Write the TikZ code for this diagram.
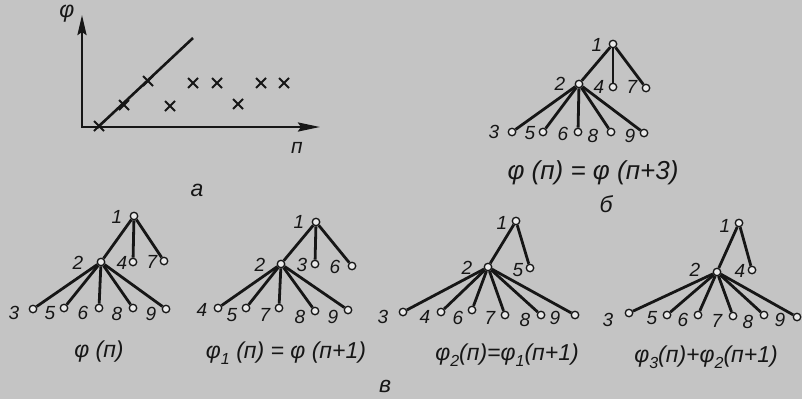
\documentclass[tikz,border=0pt]{standalone}
\usepackage{fontspec}
\setmainfont{Liberation Sans}
\usetikzlibrary{arrows.meta}
\definecolor{scangray}{HTML}{C4C4C4}
\definecolor{inkblack}{HTML}{161616}
\tikzset{
  vtx/.style={circle, draw=inkblack, fill=scangray!35!white, line width=1.3pt, inner sep=0pt, minimum size=7.5pt},
  edg/.style={line width=2.8pt, draw=inkblack},
  lbl/.style={font=\fontsize{19}{19}\selectfont\itshape, text=inkblack, inner sep=0pt},
  frm/.style={font=\fontsize{23}{23}\selectfont\itshape, text=inkblack, inner sep=0pt},
  crs/.style={line width=2pt, draw=inkblack},
  axis/.style={line width=2.6pt, draw=inkblack, {Stealth[length=20pt,width=9pt,inset=3pt]}-{Stealth[length=22pt,width=9pt,inset=3pt]}},
}
\newcommand{\lowidx}[1]{\raisebox{-0.5ex}{\fontsize{16}{16}\selectfont #1}}

\begin{document}
\begin{tikzpicture}[x=1pt, y=-1pt]
  % фон
  \fill[scangray] (0,0) rectangle (802,399);
  \useasboundingbox (0,0) rectangle (802,399);

  % --- а: график ---
  \coordinate (ytop) at (82,15);
  \coordinate (orig) at (82,127);
  \coordinate (xend) at (320,127);
  \draw[axis] (ytop) -- (orig) -- (xend);
  \coordinate (lin0) at (97,128);
  \coordinate (lin1) at (193,38);
  \draw[line width=2.6pt, inkblack] (lin0) -- (lin1);
  \foreach \x/\y in {99/126, 124/105, 148/81, 170/106, 193/83, 217/83, 238/104, 261/83, 284/83}
    \draw[crs] ({\x-5},{\y-5}) -- ({\x+5},{\y+5}) ({\x-5},{\y+5}) -- ({\x+5},{\y-5});
  \node[frm] (phiax) at (67,14) {φ};
  \node[lbl, font=\fontsize{21}{21}\selectfont\itshape] (nax) at (297,148) {п};
  \node[frm] (capa) at (197,190) {а};

  % --- б: дерево ---
  \node[vtx] (b1) at (613,44) {};
  \node[vtx] (b2) at (579,84) {};
  \node[vtx] (b4) at (613,87) {};
  \node[vtx] (b7) at (646,88) {};
  \foreach \k/\x/\y in {3/512/132, 5/543/132, 6/578/132, 8/611/132, 9/644/133}
    \node[vtx] (b\k) at (\x,\y) {};
  \foreach \k in {2,4,7} \draw[edg] (b1) -- (b\k);
  \foreach \k in {3,5,6,8,9} \draw[edg] (b2) -- (b\k);
  \foreach \k/\x/\y in {1/597/45, 2/560/84, 4/599/87, 7/632/87, 3/494/132, 5/530/133, 6/563/134, 8/593/136, 9/630/136}
    \node[lbl] (b\k t) at (\x,\y) {\k};
  \node[frm, font=\fontsize{26}{26}\selectfont\itshape] (fb) at (593,173) {φ (п) = φ (п+3)};
  \node[frm] (capb) at (606,204) {б};

  % --- в: дерево φ(n) ---
  \node[vtx] (p1) at (134,216) {};
  \node[vtx] (p2) at (101,262) {};
  \node[vtx] (p4) at (133,262) {};
  \node[vtx] (p7) at (164,261) {};
  \foreach \k/\x/\y in {3/33/309, 5/64/308, 6/99/308, 8/133/308, 9/166/309}
    \node[vtx] (p\k) at (\x,\y) {};
  \foreach \k in {2,4,7} \draw[edg] (p1) -- (p\k);
  \foreach \k in {3,5,6,8,9} \draw[edg] (p2) -- (p\k);
  \foreach \k/\x/\y in {1/117/217, 2/78/263, 4/122/263, 7/152/262, 3/14/313, 5/50/313, 6/83/313, 8/117/314, 9/151/314}
    \node[lbl] (p\k t) at (\x,\y) {\k};
  \node[frm] (fp) at (99,352) {φ (п)};

  % --- в: дерево φ1 ---
  \node[vtx] (q1) at (316,222) {};
  \node[vtx] (q2) at (281,264) {};
  \node[vtx] (q3) at (315,264) {};
  \node[vtx] (q6) at (352,266) {};
  \foreach \k/\x/\y in {4/218/308, 5/246/308, 7/279/308, 8/315/311, 9/348/310}
    \node[vtx] (q\k) at (\x,\y) {};
  \foreach \k in {2,3,6} \draw[edg] (q1) -- (q\k);
  \foreach \k in {4,5,7,8,9} \draw[edg] (q2) -- (q\k);
  \foreach \k/\x/\y in {1/299/222, 2/260/265, 3/302/265, 6/335/267, 4/202/310, 5/232/315, 7/265/315, 8/300/317, 9/333/317}
    \node[lbl] (q\k t) at (\x,\y) {\k};
  \node[frm] (fq) at (286,353) {φ\lowidx{1} (п) = φ (п+1)};

  % --- в: дерево φ2 ---
  \node[vtx] (r1) at (516,221) {};
  \node[vtx] (r2) at (488,267) {};
  \node[vtx] (r5) at (530,268) {};
  \foreach \k/\x/\y in {3/403/312, 4/441/312, 6/472/310, 7/505/315, 8/541/315, 9/575/315}
    \node[vtx] (r\k) at (\x,\y) {};
  \foreach \k in {2,5} \draw[edg] (r1) -- (r\k);
  \foreach \k in {3,4,6,7,8,9} \draw[edg] (r2) -- (r\k);
  \foreach \k/\x/\y in {1/502/223, 2/467/268, 5/518/270, 3/383/317, 4/425/317, 6/458/318, 7/490/318, 8/525/320, 9/555/318}
    \node[lbl] (r\k t) at (\x,\y) {\k};
  \node[frm] (fr) at (507,355) {φ\lowidx{2}(п)=φ\lowidx{1}(п+1)};
  \node[frm] (capv) at (385,386) {в};

  % --- в: дерево φ3 ---
  \node[vtx] (s1) at (739,223) {};
  \node[vtx] (s2) at (717,272) {};
  \node[vtx] (s4) at (752,270) {};
  \foreach \k/\x/\y in {3/629/313, 5/667/315, 6/698/315, 7/733/316, 8/764/315, 9/797/317}
    \node[vtx] (s\k) at (\x,\y) {};
  \foreach \k in {2,4} \draw[edg] (s1) -- (s\k);
  \foreach \k in {3,5,6,7,8,9} \draw[edg] (s2) -- (s\k);
  \foreach \k/\x/\y in {1/725/226, 2/695/270, 4/740/271, 3/608/320, 5/652/318, 6/683/320, 7/717/321, 8/748/322, 9/780/320}
    \node[lbl] (s\k t) at (\x,\y) {\k};
  \node[frm] (fs) at (706,357) {φ\lowidx{3}(п)+φ\lowidx{2}(п+1)};
\end{tikzpicture}
\end{document}
